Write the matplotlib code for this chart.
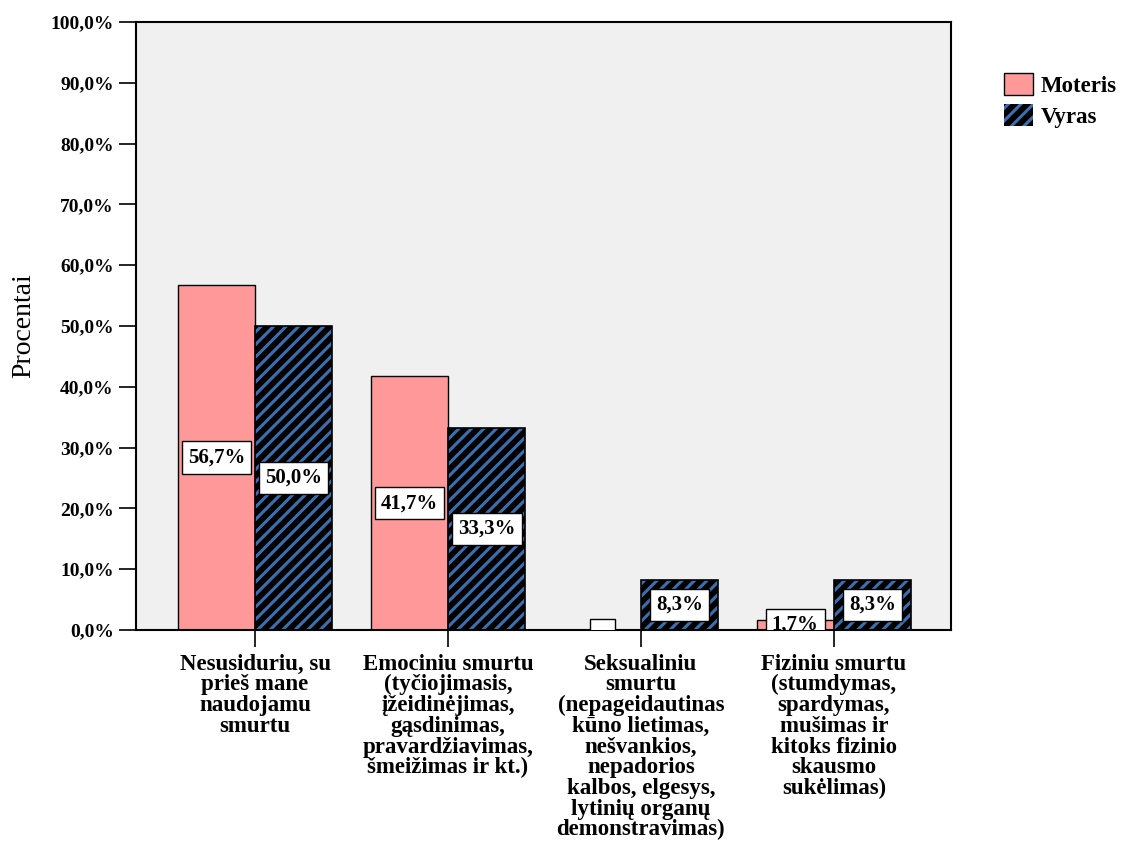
import matplotlib
matplotlib.use("Agg")
import matplotlib.pyplot as plt
import numpy as np
from matplotlib.backend_bases import GraphicsContextBase
from matplotlib.patches import Patch

categories = [
    "Nesusiduriu, su\nprieš mane\nnaudojamu\nsmurtu",
    "Emociniu smurtu\n(tyčiojimasis,\nįžeidinėjimas,\ngąsdinimas,\npravardžiavimas,\nšmeižimas ir kt.)",
    "Seksualiniu\nsmurtu\n(nepageidautinas\nkūno lietimas,\nnešvankios,\nnepadorios\nkalbos, elgesys,\nlytinių organų\ndemonstravimas)",
    "Fiziniu smurtu\n(stumdymas,\nspardymas,\nmušimas ir\nkitoks fizinio\nskausmo\nsukėlimas)",
]
series_names = ["Moteris", "Vyras"]
moteris = [56.7, 41.7, 0.0, 1.7]
vyras = [50.0, 33.3, 8.3, 8.3]
yticks = [0, 10, 20, 30, 40, 50, 60, 70, 80, 90, 100]

# stripe spacing between the '/' and '//' defaults
_orig_hatch = GraphicsContextBase.get_hatch_path
def _hatch_path(self, density=6.0):
    return _orig_hatch(self, density=8.0)
GraphicsContextBase.get_hatch_path = _hatch_path

plt.rcParams['font.family'] = ['Liberation Serif', 'DejaVu Serif']
plt.rcParams['hatch.linewidth'] = 2.2

fig = plt.figure(figsize=(11.39, 8.46), dpi=100)
ax = fig.add_axes([136/1139, 1 - 630/846, (951-136)/1139, (630-22)/846])
ax.set_facecolor('#f0f0f0')

x = np.arange(len(categories))
w = 0.4
pink = '#ff9999'
blue = '#3b6fb0'

ax.bar(x - w/2, moteris, w, color=pink, edgecolor='black', linewidth=1, zorder=2)
ax.bar(x + w/2, vyras, w, color='black', edgecolor=blue, hatch='//', linewidth=0, zorder=2)
ax.bar(x + w/2, vyras, w, facecolor='none', edgecolor='black', linewidth=1.2, zorder=3)

def fmt(v):
    return ("%.1f%%" % v).replace('.', ',')

box = dict(boxstyle='square,pad=0.3', facecolor='white', edgecolor='black', linewidth=1)
for xi, v in zip(x - w/2, moteris):
    if v > 0:
        ax.text(xi, v/2, fmt(v), ha='center', va='center', fontsize=15, fontweight='bold',
                bbox=box, zorder=4, clip_on=True)
    else:
        ax.text(xi, v/2, "\u2007\u2007", ha='center', va='center', fontsize=11, fontweight='bold',
                bbox=box, zorder=4, clip_on=True)
for xi, v in zip(x + w/2, vyras):
    ax.text(xi, v/2, fmt(v), ha='center', va='center', fontsize=15, fontweight='bold',
            bbox=box, zorder=4, clip_on=True)

ax.set_xlim(-0.617, 3.607)
ax.set_ylim(0, 100)
ax.set_yticks(yticks)
ax.set_yticklabels([fmt(t) for t in yticks], fontsize=14, fontweight='bold')
ax.set_xticks(x)
ax.set_xticklabels(categories, fontsize=16.5, fontweight='bold', linespacing=0.98, va='top')
ax.tick_params(axis='y', length=12, width=1.2, pad=4)
ax.tick_params(axis='x', length=12, width=1.2, pad=5)
for s in ax.spines.values():
    s.set_linewidth(1.5)
    s.set_color('black')
ax.set_ylabel("Procentai", fontsize=20, labelpad=10)

handles = [Patch(facecolor=pink, edgecolor='black', linewidth=1),
           Patch(facecolor='black', edgecolor=blue, hatch='//', linewidth=0)]
fig.legend(handles, series_names, loc='upper left', bbox_to_anchor=(983/1139, 1 - 52/846),
           frameon=False, prop={'size': 16.5, 'weight': 'bold'},
           handlelength=1.3, handleheight=1.15, handletextpad=0.3, labelspacing=0.3)

fig.savefig("out.png", dpi=100, facecolor='white')
